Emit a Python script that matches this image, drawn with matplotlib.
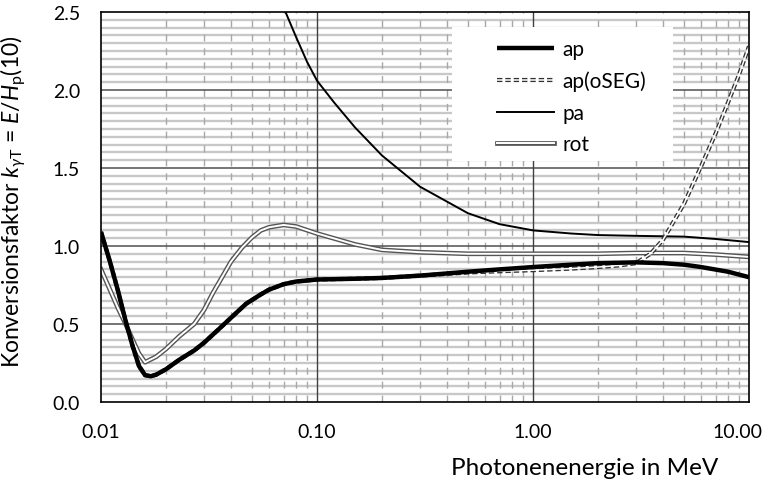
import matplotlib
matplotlib.use("Agg")
import matplotlib.pyplot as plt
import matplotlib.transforms as mtrans
import numpy as np
from matplotlib.legend_handler import HandlerTuple
from matplotlib.patches import Rectangle
from matplotlib.ticker import FixedLocator, FixedFormatter, NullLocator

plt.rcParams['font.family'] = ['Lato', 'DejaVu Sans']
plt.rcParams['mathtext.fontset'] = 'custom'
plt.rcParams['mathtext.rm'] = 'Lato'
plt.rcParams['mathtext.it'] = 'Lato:italic'

# values
e_ap = [0.010, 0.011, 0.012, 0.013, 0.014, 0.015, 0.016, 0.017, 0.018, 0.020, 0.023,
        0.027, 0.030, 0.035, 0.040, 0.047, 0.055, 0.060, 0.070, 0.080, 0.100, 0.150,
        0.200, 0.300, 0.500, 0.700, 1.0, 1.5, 2.0, 3.0, 4.0, 5.0, 6.0, 8.0, 10.0]
k_ap = [1.09, 0.90, 0.71, 0.52, 0.36, 0.23, 0.172, 0.165, 0.175, 0.21, 0.27,
        0.33, 0.38, 0.465, 0.54, 0.63, 0.69, 0.72, 0.755, 0.772, 0.785, 0.79,
        0.795, 0.81, 0.835, 0.85, 0.865, 0.88, 0.89, 0.895, 0.89, 0.88, 0.865, 0.835, 0.80]

e_oseg = [0.010, 0.011, 0.012, 0.013, 0.014, 0.015, 0.016, 0.017, 0.018, 0.020, 0.023,
          0.027, 0.030, 0.035, 0.040, 0.047, 0.055, 0.060, 0.070, 0.080, 0.100, 0.150,
          0.200, 0.300, 0.500, 0.700, 1.0, 1.5, 2.0, 2.5, 3.0, 3.5, 4.0, 5.0, 6.0, 7.0,
          8.0, 9.0, 10.0]
k_oseg = [1.09, 0.90, 0.71, 0.52, 0.36, 0.23, 0.172, 0.165, 0.175, 0.21, 0.27,
          0.33, 0.38, 0.465, 0.54, 0.63, 0.69, 0.72, 0.755, 0.772, 0.785, 0.79,
          0.795, 0.81, 0.83, 0.838, 0.845, 0.855, 0.865, 0.875, 0.89, 0.95, 1.04, 1.27,
          1.51, 1.72, 1.92, 2.10, 2.28]

e_pa = [0.070, 0.080, 0.090, 0.100, 0.120, 0.150, 0.200, 0.300, 0.500, 0.700, 1.0,
        1.5, 2.0, 3.0, 5.0, 7.0, 10.0]
k_pa = [2.53, 2.34, 2.18, 2.06, 1.92, 1.76, 1.58, 1.38, 1.21, 1.14, 1.10,
        1.08, 1.07, 1.065, 1.06, 1.045, 1.025]

e_rot = [0.010, 0.011, 0.012, 0.013, 0.014, 0.015, 0.016, 0.018, 0.020, 0.023, 0.027,
         0.030, 0.033, 0.036, 0.040, 0.045, 0.050, 0.055, 0.060, 0.070, 0.080, 0.100,
         0.150, 0.200, 0.300, 0.500, 1.0, 2.0, 3.0, 5.0, 7.0, 10.0]
k_rot = [0.85, 0.72, 0.60, 0.50, 0.40, 0.31, 0.255, 0.29, 0.34, 0.42, 0.50,
         0.59, 0.70, 0.79, 0.90, 0.99, 1.055, 1.10, 1.12, 1.135, 1.125, 1.08,
         1.01, 0.975, 0.96, 0.95, 0.95, 0.95, 0.955, 0.955, 0.945, 0.93]

x_ticks = [0.01, 0.1, 1, 10]
x_labels = ['0.01', '0.10', '1.00', '10.00']
y_ticks = [0.0, 0.5, 1.0, 1.5, 2.0, 2.5]

fig = plt.figure(figsize=(7.78, 4.81), dpi=100)
ax = fig.add_axes([0.1298, 0.1622, 0.8329, 0.8108])
ax.set_xscale('log')
ax.set_xlim(0.01, 10)
ax.set_ylim(0, 2.5)

ax.xaxis.set_major_locator(FixedLocator(x_ticks))
ax.xaxis.set_major_formatter(FixedFormatter(x_labels))
ax.xaxis.set_minor_locator(NullLocator())
ax.yaxis.set_major_locator(FixedLocator(y_ticks))
ax.yaxis.set_major_formatter(FixedFormatter(['%.1f' % v for v in y_ticks]))
ax.tick_params(which='both', length=0, labelsize=14)
ax.tick_params(axis='x', pad=15)
ax.tick_params(axis='y', pad=15)

# grid lines drawn by hand so the majors sit on top of the minors
for v in np.arange(0.05, 2.5, 0.05):
    if abs(v / 0.5 - round(v / 0.5)) > 1e-6:
        ax.axhline(v, color='#c8c8c8', lw=1.7, zorder=1)
for dec in [0.01, 0.1, 1]:
    for m in range(2, 10):
        ax.axvline(dec * m, color='#a8a8a8', lw=1.0, ls=(0, (5, 5)), zorder=1.5)
for v in y_ticks[1:-1]:
    ax.axhline(v, color='#505050', lw=1.1, zorder=2)
for v in x_ticks[1:-1]:
    ax.axvline(v, color='#404040', lw=1.0, zorder=2)

for s in ax.spines.values():
    s.set_linewidth(1.2)
    s.set_color('black')
    s.set_zorder(7)

# curves
l_ap, = ax.plot(e_ap, k_ap, color='black', lw=3.2, zorder=5, solid_capstyle='butt')
o1, = ax.plot(e_oseg, k_oseg, color='#333333', lw=3.0, ls=(0, (1.3, 0.7)), zorder=4)
o2, = ax.plot(e_oseg, k_oseg, color='white', lw=1.1, zorder=4)
l_pa, = ax.plot(e_pa, k_pa, color='black', lw=1.4, zorder=3)
r1, = ax.plot(e_rot, k_rot, color='#555555', lw=3.4, zorder=3)
r2, = ax.plot(e_rot, k_rot, color='white', lw=1.4, zorder=3)

# legend box
ax.add_patch(Rectangle((0.5417, 0.618), 0.341, 0.3436, transform=ax.transAxes,
                       facecolor='white', edgecolor='none', zorder=6))
leg = ax.legend([l_ap, (o1, o2), l_pa, (r1, r2)], ['ap', 'ap(oSEG)', 'pa', 'rot'],
                handler_map={tuple: HandlerTuple(ndivide=1)},
                loc='upper left', bbox_to_anchor=(0.611, 0.93), fontsize=15,
                frameon=False, handlelength=2.75, handletextpad=0.38,
                labelspacing=0.55, borderpad=0, borderaxespad=0)
leg.set_zorder(6.5)

ax.set_ylabel(r'Konversionsfaktor $k_{\gamma\mathrm{T}}$ = $E/H_\mathrm{p}$(10)', fontsize=16.5)
ax.yaxis.set_label_coords(-0.112, 0.517)
ax.set_xlabel('Photonenenergie in MeV', fontsize=17.5)
ax.xaxis.set_label_coords(0.953, -0.14)
ax.xaxis.label.set_horizontalalignment('right')

# last x tick label sits a little left of its tick, as in the reference
fig.canvas.draw()
last = ax.get_xticklabels()[-1]
last.set_transform(last.get_transform() + mtrans.ScaledTranslation(-0.12, 0, fig.dpi_scale_trans))

fig.savefig('out.png', dpi=100)
